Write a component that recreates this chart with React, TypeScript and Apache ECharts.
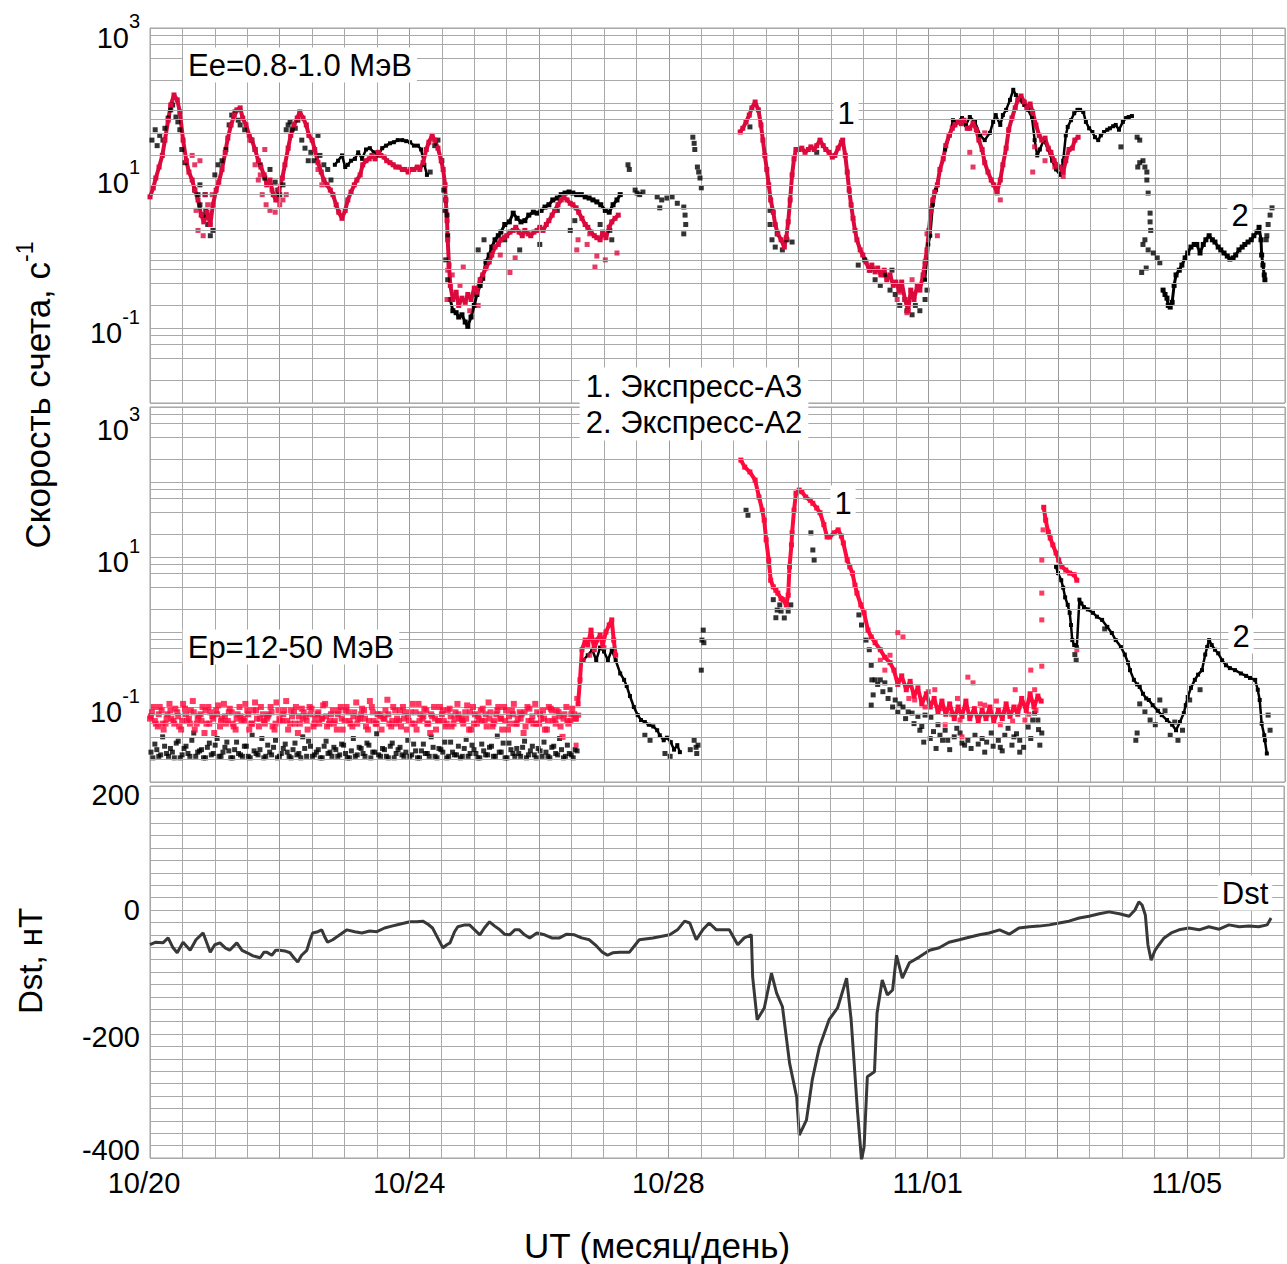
import React, { useEffect, useRef } from 'react';
import * as echarts from 'echarts';

const FONT = '"Liberation Sans", Arial, Helvetica, sans-serif';
const GRID_COLOR = '#a9a9a9';
const RED_E = '#dc0a3c';
const RED_P = '#ff0a3c';
const BLACK = '#000000';

// x axis: days since 2003-10-20 00 UT
const dayMax = 17.5;
const dayTicks = [0, 4, 8, 12, 16];
const dayTickLabels = ['10/20', '10/24', '10/28', '11/01', '11/05'];
const labeledDecades = [3, 1, -1];
const logMinorFactors = [2, 4, 6, 8];
const logDecades = [-2, -1, 0, 1, 2];
const dstLabels = [-400, -200, 0, 200];

// ---------- Electrons, Ee = 0.8-1.0 MeV (count rate, 1/s) ----------
// Express-A3 (1)
const eleA3Track1 = [
  [0, 5.6], [0.05, 7.4], [0.09, 10], [0.14, 14], [0.19, 20], [0.23, 32], [0.28, 59], [0.32, 94], [0.37, 128], [0.42, 110],
  [0.46, 76], [0.51, 32], [0.56, 17], [0.6, 12], [0.65, 9.4], [0.69, 6.9], [0.74, 5.1], [0.79, 3.2], [0.83, 2.6], [0.88, 3.5],
  [0.93, 2.4], [0.97, 4.4], [1.02, 6.9], [1.06, 8.8], [1.11, 13], [1.16, 22], [1.2, 34], [1.25, 51], [1.3, 69], [1.34, 81],
  [1.39, 86], [1.43, 63], [1.48, 51], [1.53, 37], [1.57, 32], [1.62, 24], [1.67, 17], [1.71, 14], [1.76, 11], [1.8, 8.1],
  [1.85, 9.4], [1.9, 6.0], [1.94, 5.1], [1.99, 6.9], [2.04, 10], [2.08, 15], [2.13, 25], [2.17, 37], [2.22, 51], [2.27, 63],
  [2.31, 76], [2.36, 63], [2.41, 51], [2.45, 37], [2.5, 32], [2.54, 24], [2.59, 16], [2.64, 12], [2.68, 9.4], [2.73, 8.1],
  [2.78, 6.9], [2.82, 6.0], [2.87, 4.4], [2.91, 3.5], [2.96, 2.9], [3.01, 3.7], [3.05, 5.1], [3.1, 6.5], [3.15, 8.1], [3.19, 9.4],
  [3.24, 11], [3.28, 15], [3.33, 17], [3.38, 18], [3.42, 20], [3.47, 18], [3.52, 22], [3.56, 20], [3.61, 19], [3.65, 17],
  [3.7, 16], [3.75, 15], [3.79, 14], [3.84, 14], [3.89, 13], [3.93, 13], [3.98, 12], [4.02, 13], [4.07, 13], [4.12, 14],
  [4.16, 13], [4.21, 16], [4.26, 24], [4.3, 30], [4.35, 37], [4.39, 32], [4.44, 25], [4.49, 17], [4.52, 13], [4.55, 8.1],
  [4.56, 5.1], [4.58, 2.7], [4.59, 1.5], [4.61, 0.69], [4.63, 0.37], [4.67, 0.24], [4.72, 0.3], [4.76, 0.2], [4.81, 0.25], [4.86, 0.22],
  [4.9, 0.28], [4.95, 0.24], [5.0, 0.34], [5.04, 0.3], [5.09, 0.44], [5.13, 0.51], [5.18, 0.63], [5.23, 0.76], [5.27, 0.94], [5.32, 1.2],
  [5.37, 1.3], [5.41, 1.5], [5.46, 1.6], [5.5, 1.7], [5.55, 1.9], [5.6, 2.0], [5.64, 2.2], [5.69, 1.9], [5.74, 1.7], [5.78, 2.0],
  [5.83, 1.8], [5.87, 1.7], [5.92, 1.9], [5.97, 2.0], [6.01, 2.2], [6.06, 2.0], [6.11, 2.4], [6.15, 2.7], [6.2, 3.2], [6.24, 3.7],
  [6.29, 4.4], [6.34, 5.1], [6.38, 5.6], [6.43, 5.1], [6.48, 4.6], [6.52, 4.4], [6.57, 4.0], [6.61, 3.5], [6.66, 2.9], [6.71, 2.4],
  [6.75, 2.2], [6.8, 1.9], [6.85, 1.7], [6.89, 1.6], [6.94, 1.5], [6.98, 1.9], [7.03, 1.6], [7.08, 2.2], [7.12, 2.6], [7.17, 2.9],
  [7.22, 3.2],
];
const eleA3Track2 = [
  [9.1, 41], [9.14, 46], [9.19, 56], [9.24, 69], [9.28, 86], [9.33, 103], [9.38, 81], [9.42, 51], [9.45, 32], [9.48, 20],
  [9.51, 13], [9.54, 8.1], [9.57, 5.1], [9.61, 3.5], [9.64, 2.4], [9.68, 1.8], [9.73, 1.5], [9.78, 1.2], [9.81, 1.6], [9.84, 2.6],
  [9.87, 5.1], [9.9, 11], [9.93, 18], [9.96, 24], [10.01, 24], [10.05, 25], [10.1, 22], [10.15, 24], [10.19, 26], [10.24, 24],
  [10.28, 27], [10.33, 32], [10.38, 27], [10.42, 24], [10.47, 22], [10.52, 19], [10.56, 20], [10.61, 25], [10.66, 30], [10.68, 32],
  [10.72, 20], [10.75, 12], [10.78, 6.9], [10.81, 4.4], [10.84, 2.9], [10.87, 2.0], [10.9, 1.5], [10.95, 1.1], [10.99, 0.94], [11.04, 0.76],
  [11.09, 0.59], [11.13, 0.69], [11.18, 0.56], [11.22, 0.63], [11.27, 0.51], [11.32, 0.59], [11.36, 0.44], [11.41, 0.51], [11.46, 0.37], [11.5, 0.41],
  [11.55, 0.32], [11.59, 0.41], [11.64, 0.24], [11.69, 0.17], [11.73, 0.32], [11.78, 0.24], [11.83, 0.37], [11.87, 0.32], [11.92, 0.51], [11.95, 0.76],
  [11.98, 1.1], [12.01, 2.0], [12.04, 3.7], [12.07, 5.1], [12.1, 6.5], [12.14, 8.1], [12.18, 13], [12.23, 18], [12.27, 27], [12.32, 37],
  [12.37, 46], [12.41, 51], [12.46, 56], [12.51, 53], [12.55, 59], [12.6, 46], [12.64, 46], [12.69, 54], [12.74, 44], [12.78, 32],
  [12.83, 24], [12.87, 16], [12.92, 12], [12.97, 9.4], [13.01, 8.1], [13.06, 6.5], [13.11, 9.4], [13.15, 15], [13.2, 25], [13.24, 44],
  [13.29, 63], [13.34, 86], [13.38, 110], [13.43, 124], [13.48, 103], [13.52, 86], [13.57, 97], [13.61, 76], [13.66, 51], [13.71, 37],
  [13.75, 32], [13.8, 34], [13.85, 25], [13.89, 22], [13.94, 17], [13.98, 15], [14.03, 14], [14.08, 12], [14.12, 17], [14.17, 24],
  [14.22, 25], [14.26, 32], [14.31, 35],
];
const eleA3Pts = [
  [0.65, 20], [0.69, 15], [0.74, 2.0], [0.77, 17], [0.82, 1.7], [0.85, 6.0], [0.89, 4.4], [0.93, 3.2], [0.96, 6.0], [0.71, 3.7],
  [1.54, 32], [1.62, 15], [1.67, 9.4], [1.73, 6.0], [1.79, 4.4], [1.85, 3.7], [1.93, 3.5], [2.0, 4.4], [2.05, 5.1], [2.1, 6.0],
  [1.77, 24], [1.7, 11], [1.88, 6.9], [1.97, 5.1], [2.59, 13], [2.65, 8.1], [4.59, 0.59], [4.58, 0.24], [4.66, 0.51], [4.78, 0.37],
  [4.93, 0.17], [5.06, 0.2], [4.83, 0.65], [5.4, 0.94], [5.55, 0.55], [5.63, 0.86], [6.58, 1.1], [6.6, 1.5], [6.86, 0.65], [6.89, 0.91],
  [7.02, 0.81], [7.2, 1.0], [6.78, 1.8], [6.98, 1.8], [6.74, 1.3], [11.26, 0.55], [11.56, 0.3], [11.67, 0.16], [11.52, 0.24], [11.75, 0.44],
  [11.98, 1.8], [12.14, 1.7], [12.64, 22], [12.69, 14], [12.87, 40], [13.06, 6.3], [13.11, 5.1], [13.61, 12], [13.64, 26], [13.95, 14],
  [14.08, 10.5], [13.8, 17],
];
// Express-A2 (2)
const eleA2Track1 = [
  [2.85, 15], [2.9, 17], [2.96, 20], [3.01, 14], [3.05, 15], [3.1, 17], [3.16, 18], [3.21, 22], [3.27, 18], [3.33, 24],
  [3.39, 25], [3.45, 22], [3.52, 20], [3.58, 25], [3.64, 27], [3.7, 29], [3.76, 30], [3.82, 32], [3.89, 32], [3.95, 31],
  [4.01, 30], [4.07, 27], [4.13, 27], [4.18, 24], [4.23, 15], [4.27, 11],
];
const eleA2Track2 = [
  [4.63, 0.24], [4.67, 0.17], [4.72, 0.16], [4.76, 0.14], [4.81, 0.15], [4.86, 0.12], [4.9, 0.105], [4.95, 0.14], [5.0, 0.2], [5.04, 0.28],
  [5.09, 0.37], [5.13, 0.46], [5.18, 0.76], [5.23, 0.94], [5.27, 1.2], [5.32, 1.5], [5.37, 1.7], [5.41, 1.9], [5.47, 2.4], [5.54, 2.6],
  [5.6, 3.4], [5.66, 2.9], [5.72, 2.6], [5.78, 2.7], [5.84, 3.2], [5.91, 3.5], [5.97, 3.4], [6.03, 3.7], [6.09, 4.1], [6.15, 4.4],
  [6.21, 5.1], [6.28, 5.4], [6.34, 6.0], [6.4, 6.3], [6.46, 6.5], [6.52, 6.3], [6.58, 6.0], [6.65, 6.0], [6.71, 5.6], [6.77, 5.4],
  [6.83, 5.1], [6.89, 4.8], [6.95, 4.4], [7.02, 3.7], [7.08, 3.5], [7.14, 4.4], [7.2, 5.1], [7.25, 6.0],
];
const eleA2Track3 = [
  [11.95, 0.44], [12.0, 1.3], [12.03, 1.7], [12.07, 4.4], [12.12, 6.9], [12.18, 13], [12.26, 24], [12.33, 37], [12.38, 59], [12.44, 56],
  [12.52, 63], [12.58, 51], [12.64, 65], [12.72, 56], [12.8, 37], [12.87, 32], [12.95, 40], [13.0, 56], [13.04, 69], [13.11, 51],
  [13.15, 69], [13.2, 81], [13.26, 110], [13.31, 150], [13.35, 128], [13.41, 110], [13.48, 94], [13.54, 81], [13.6, 63], [13.64, 32],
  [13.68, 20], [13.72, 24], [13.78, 32], [13.85, 24], [13.91, 17], [13.97, 13], [14.03, 11], [14.08, 17], [14.12, 37], [14.15, 48],
  [14.2, 59], [14.25, 73], [14.3, 81], [14.34, 81], [14.39, 76], [14.43, 56], [14.48, 46], [14.53, 41], [14.57, 35], [14.62, 32],
  [14.66, 37], [14.71, 41], [14.76, 44], [14.8, 46], [14.85, 49], [14.89, 51], [14.94, 44], [15.0, 56], [15.05, 63], [15.09, 65],
  [15.14, 67],
];
const eleA2Track4 = [
  [15.62, 0.32], [15.65, 0.28], [15.68, 0.25], [15.7, 0.2], [15.73, 0.19], [15.76, 0.22], [15.79, 0.37], [15.82, 0.51], [15.87, 0.59], [15.91, 0.69],
  [15.96, 0.86], [16.0, 1.0], [16.05, 1.2], [16.1, 1.3], [16.14, 1.3], [16.19, 1.0], [16.24, 1.3], [16.28, 1.5], [16.33, 1.7], [16.38, 1.5],
  [16.42, 1.4], [16.47, 1.2], [16.51, 1.1], [16.56, 1.0], [16.61, 0.91], [16.65, 0.83], [16.7, 0.86], [16.74, 0.94], [16.79, 1.1], [16.84, 1.2],
  [16.88, 1.3], [16.93, 1.4], [16.98, 1.5], [17.02, 1.7], [17.07, 1.9], [17.1, 2.2], [17.13, 1.5], [17.14, 0.94], [17.16, 0.69], [17.18, 0.51],
  [17.19, 0.44],
];
const eleA2Pts = [
  [0.03, 32], [0.08, 44], [0.11, 27], [0.15, 37], [0.2, 32], [0.23, 46], [0.28, 63], [0.32, 81], [0.35, 94], [0.4, 65],
  [0.43, 56], [0.46, 44], [0.49, 24], [0.54, 16], [0.69, 6.9], [0.74, 6.0], [0.77, 4.4], [0.82, 3.2], [0.86, 3.7], [0.89, 2.4],
  [0.93, 1.7], [0.97, 2.0], [0.77, 8.1], [0.85, 6.0], [1.0, 11], [1.05, 15], [1.11, 17], [1.17, 24], [1.22, 51], [1.26, 69],
  [1.31, 76], [1.36, 59], [1.39, 51], [1.46, 44], [1.57, 32], [1.62, 24], [1.7, 15], [1.77, 10], [1.85, 13], [1.93, 8.8],
  [1.97, 6.9], [2.0, 6.0], [2.05, 8.1], [2.1, 44], [2.13, 51], [2.16, 56], [2.19, 44], [2.24, 46], [2.28, 59], [2.34, 32],
  [2.39, 25], [2.44, 17], [2.48, 22], [2.53, 17], [2.59, 37], [2.62, 20], [2.68, 15], [2.74, 13], [2.79, 9.4], [4.32, 12],
  [4.39, 27], [4.44, 32], [4.5, 17], [4.53, 6.9], [4.56, 5.1], [4.58, 3.2], [4.55, 3.7], [4.56, 0.81], [4.59, 0.44], [4.59, 1.7],
  [5.06, 1.1], [5.15, 1.5], [5.47, 1.5], [5.7, 1.1], [6.01, 1.3], [6.28, 3.7], [6.48, 2.0], [6.55, 2.7], [6.94, 2.4], [7.09, 2.0],
  [7.12, 1.5], [7.37, 15], [7.39, 13], [7.48, 6.9], [7.51, 6.3], [7.55, 6.0], [7.6, 6.5], [7.82, 5.6], [7.89, 5.1], [7.97, 5.4],
  [8.05, 5.6], [8.13, 4.6], [7.86, 4.0], [8.23, 4.1], [8.25, 3.2], [8.26, 2.4], [8.23, 1.8], [8.37, 35], [8.39, 29], [8.4, 24],
  [8.44, 14], [8.46, 12], [8.48, 10], [8.5, 7.4], [9.25, 48], [9.56, 3.7], [9.56, 2.4], [9.59, 1.5], [9.64, 1.2], [9.67, 1.8],
  [9.75, 1.1], [9.82, 1.5], [9.9, 1.4], [10.28, 22], [11.02, 0.81], [11.1, 0.59], [11.18, 0.44], [11.26, 0.37], [11.33, 0.51], [11.41, 0.32],
  [11.49, 0.28], [11.56, 0.2], [11.64, 0.24], [11.67, 0.17], [11.75, 0.15], [11.8, 0.2], [11.87, 0.17], [11.95, 0.24], [11.98, 0.32], [10.92, 0.69],
  [11.44, 0.59], [14.97, 26], [15.22, 35], [15.26, 32], [15.23, 14], [15.26, 16], [15.31, 17], [15.34, 14], [15.37, 12], [15.37, 9.4],
  [15.39, 6.3], [15.42, 3.4], [15.42, 2.6], [15.43, 2.0], [15.31, 1.3], [15.34, 1.5], [15.39, 1.1], [15.47, 1.0], [15.53, 0.86], [15.57, 0.74],
  [15.29, 0.55], [15.36, 0.63], [17.21, 1.5], [17.22, 1.7], [17.24, 2.4], [17.27, 3.2], [17.3, 4.0],
];

// ---------- Protons, Ep = 12-50 MeV (count rate, 1/s) ----------
// quiet-time background, one sample per quietStep, interleaved passes per satellite
const quietStep = 0.06;
const proA3QuietA = [
  0.07, 0.1, 0.055, 0.09, 0.06, 0.11, 0.065, 0.085, 0.05, 0.095,
  0.07, 0.12, 0.06, 0.08, 0.045, 0.1, 0.075, 0.09, 0.055, 0.11,
  0.065, 0.085, 0.05, 0.1, 0.07, 0.09, 0.06, 0.115, 0.055, 0.08,
  0.07, 0.1, 0.05, 0.09, 0.065, 0.12, 0.06, 0.085, 0.045, 0.095,
  0.075, 0.1, 0.055, 0.08, 0.07, 0.11, 0.06, 0.09, 0.05, 0.1,
  0.065, 0.085, 0.055, 0.115, 0.07, 0.09, 0.05, 0.1, 0.06, 0.08,
  0.07, 0.125, 0.055, 0.09, 0.065, 0.1, 0.05, 0.085, 0.06, 0.11,
  0.07, 0.09, 0.045, 0.1, 0.065, 0.08, 0.055, 0.095, 0.06, 0.11,
  0.07, 0.085, 0.05, 0.1, 0.06, 0.09, 0.065, 0.115, 0.055, 0.08,
  0.07, 0.1, 0.05, 0.09, 0.06, 0.085, 0.045, 0.1, 0.065, 0.11,
  0.06, 0.09, 0.05, 0.095, 0.07, 0.085, 0.04, 0.1, 0.065, 0.08,
];
const proA3QuietB = [
  0.085, 0.06, 0.1, 0.05, 0.08, 0.07, 0.095, 0.055, 0.11, 0.065,
  0.09, 0.05, 0.075, 0.1, 0.06, 0.085, 0.045, 0.105, 0.07, 0.06,
  0.095, 0.055, 0.08, 0.065, 0.11, 0.05, 0.09, 0.07, 0.1, 0.06,
  0.08, 0.055, 0.115, 0.065, 0.09, 0.05, 0.075, 0.1, 0.06, 0.085,
  0.05, 0.095, 0.07, 0.06, 0.105, 0.055, 0.08, 0.065, 0.09, 0.05,
  0.1, 0.06, 0.085, 0.07, 0.095, 0.055, 0.12, 0.065, 0.08, 0.05,
  0.09, 0.06, 0.1, 0.07, 0.055, 0.085, 0.065, 0.11, 0.05, 0.08,
  0.095, 0.06, 0.075, 0.05, 0.1, 0.065, 0.09, 0.055, 0.085, 0.07,
  0.06, 0.105, 0.05, 0.08, 0.07, 0.095, 0.055, 0.085, 0.065, 0.1,
  0.05, 0.09, 0.06, 0.11, 0.07, 0.08, 0.055, 0.095, 0.06, 0.085,
  0.07, 0.05, 0.1, 0.065, 0.09, 0.055, 0.08, 0.06, 0.095, 0.07,
];
const proA3QuietC = [
  0.075, 0.065, 0.08, 0.06, 0.07, 0.09, 0.06, 0.075, 0.065, 0.08,
  0.06, 0.085, 0.07, 0.065, 0.09, 0.06, 0.07, 0.08, 0.065, 0.075,
  0.085, 0.06, 0.07, 0.075, 0.065, 0.08, 0.06, 0.09, 0.07, 0.065,
  0.075, 0.085, 0.06, 0.07, 0.08, 0.065, 0.09, 0.06, 0.075, 0.07,
  0.065, 0.08, 0.06, 0.085, 0.07, 0.075, 0.065, 0.06, 0.08, 0.07,
  0.09, 0.065, 0.075, 0.06, 0.08, 0.07, 0.065, 0.085, 0.06, 0.075,
  0.07, 0.08, 0.065, 0.06, 0.09, 0.07, 0.075, 0.06, 0.085, 0.065,
  0.075, 0.06, 0.08, 0.07, 0.065, 0.09, 0.06, 0.075, 0.07, 0.08,
  0.065, 0.07, 0.085, 0.06, 0.075, 0.065, 0.08, 0.07, 0.06, 0.09,
  0.07, 0.065, 0.075, 0.08, 0.06, 0.07, 0.085, 0.065, 0.075, 0.06,
  0.08, 0.07, 0.065, 0.09, 0.06, 0.075, 0.07, 0.065, 0.08, 0.07,
];
const proA3Track1 = [
  [6.6, 0.11], [6.63, 0.23], [6.66, 0.58], [6.71, 0.78], [6.75, 0.67], [6.8, 1.06], [6.85, 0.58], [6.89, 0.78], [6.94, 0.91], [6.98, 0.67],
  [7.03, 1.0], [7.08, 1.24], [7.12, 1.45], [7.15, 0.78], [7.18, 0.49],
];
const proA3Track2 = [
  [9.11, 196], [9.17, 158], [9.25, 136], [9.33, 106], [9.39, 63], [9.44, 42], [9.47, 31], [9.5, 17], [9.54, 9.1], [9.57, 4.9],
  [9.61, 4.0], [9.65, 3.6], [9.68, 3.3], [9.73, 2.8], [9.76, 2.7], [9.81, 2.3], [9.84, 3.1], [9.86, 7.4], [9.89, 14.5], [9.9, 21],
  [9.93, 42], [9.96, 71], [10.01, 78], [10.05, 74], [10.11, 63], [10.18, 57], [10.22, 52], [10.28, 45], [10.33, 39], [10.39, 27],
  [10.44, 18.5], [10.48, 18.5], [10.55, 21], [10.61, 23], [10.66, 19], [10.69, 15.4], [10.75, 9.1], [10.79, 7.4], [10.83, 6.1], [10.87, 4.2],
  [10.9, 3.3], [10.96, 2.3], [11.01, 1.8], [11.07, 1.06], [11.12, 0.86], [11.18, 0.72], [11.26, 0.58], [11.33, 0.46], [11.41, 0.39], [11.47, 0.31],
  [11.53, 0.2], [11.59, 0.26], [11.66, 0.17], [11.72, 0.22], [11.78, 0.14], [11.84, 0.18], [11.9, 0.11], [11.97, 0.15], [12.03, 0.1], [12.09, 0.13],
  [12.15, 0.085], [12.21, 0.12], [12.27, 0.08], [12.33, 0.11], [12.4, 0.07], [12.46, 0.1], [12.52, 0.075], [12.58, 0.12], [12.64, 0.07], [12.71, 0.095],
  [12.77, 0.065], [12.83, 0.09], [12.89, 0.07], [12.95, 0.1], [13.01, 0.065], [13.08, 0.09], [13.14, 0.07], [13.2, 0.11], [13.26, 0.075], [13.32, 0.1],
  [13.38, 0.08], [13.44, 0.13], [13.51, 0.09], [13.57, 0.15], [13.63, 0.1], [13.69, 0.14], [13.74, 0.12],
];
const proA3Track3 = [
  [13.78, 46], [13.81, 31], [13.85, 21.5], [13.88, 17.9], [13.92, 14.5], [13.97, 11.3], [14.01, 9.1], [14.06, 7.4], [14.12, 6.7], [14.18, 6.1],
  [14.25, 5.8], [14.29, 4.9],
];
const proA3Pts = [
  [6.57, 0.031], [6.58, 0.13], [6.61, 0.078], [6.68, 0.42], [6.78, 0.49], [7.0, 0.62], [11.26, 0.42], [11.33, 0.31], [11.41, 0.49], [11.79, 0.124],
  [12.1, 0.17], [12.26, 0.058], [12.49, 0.067], [12.87, 0.106], [13.11, 0.058], [13.34, 0.17], [13.49, 0.067], [13.64, 0.17], [11.53, 0.98], [11.61, 0.86],
  [12.61, 0.25], [12.69, 0.21], [13.58, 0.31], [12.52, 0.04], [13.75, 9.1], [13.75, 3.3], [13.75, 1.45], [13.75, 0.35], [14.29, 0.58], [13.77, 23],
  [11.7, 0.13], [11.95, 0.1], [12.0, 0.16], [12.2, 0.095], [12.36, 0.08], [12.45, 0.13], [12.7, 0.085], [12.8, 0.11], [12.92, 0.08], [13.05, 0.12],
  [13.17, 0.085], [13.3, 0.065], [13.4, 0.1], [13.55, 0.08], [13.66, 0.09],
];
// Express-A2 (2)
const proA2QuietA = [
  0.025, 0.032, 0.022, 0.04, 0.024, 0.028, 0.021, 0.035, 0.023, 0.03,
  0.022, 0.045, 0.025, 0.027, 0.021, 0.033, 0.024, 0.038, 0.022, 0.029,
  0.026, 0.021, 0.034, 0.023, 0.03, 0.022, 0.042, 0.024, 0.027, 0.021,
  0.031, 0.023, 0.036, 0.022, 0.028, 0.025, 0.021, 0.033, 0.024, 0.04,
  0.022, 0.03, 0.023, 0.027, 0.021, 0.035, 0.025, 0.029, 0.022, 0.032,
  0.024, 0.021, 0.038, 0.023, 0.028, 0.022, 0.031, 0.025, 0.044, 0.022,
  0.027, 0.021, 0.033, 0.024, 0.029, 0.022, 0.036, 0.023, 0.026, 0.021,
  0.032, 0.024, 0.04, 0.022, 0.028, 0.025, 0.021, 0.034, 0.023, 0.03,
  0.022, 0.037, 0.024, 0.027, 0.021, 0.032, 0.023, 0.029, 0.022, 0.041,
  0.025, 0.021, 0.033, 0.024, 0.028, 0.022, 0.035, 0.023, 0.03, 0.021,
  0.026, 0.034, 0.022, 0.029, 0.024, 0.038, 0.021, 0.031, 0.023, 0.027,
];
const proA2QuietB = [
  0.021, 0.027, 0.023, 0.03, 0.022, 0.025, 0.033, 0.021, 0.028, 0.024,
  0.036, 0.022, 0.026, 0.021, 0.029, 0.023, 0.031, 0.022, 0.025, 0.034,
  0.021, 0.027, 0.024, 0.022, 0.03, 0.021, 0.026, 0.023, 0.038, 0.022,
  0.025, 0.029, 0.021, 0.024, 0.032, 0.022, 0.027, 0.023, 0.021, 0.028,
  0.035, 0.022, 0.025, 0.021, 0.03, 0.024, 0.022, 0.027, 0.023, 0.031,
  0.021, 0.026, 0.022, 0.029, 0.024, 0.033, 0.021, 0.025, 0.023, 0.028,
  0.022, 0.03, 0.021, 0.027, 0.023, 0.025, 0.022, 0.032, 0.021, 0.026,
  0.024, 0.022, 0.029, 0.021, 0.027, 0.034, 0.022, 0.025, 0.023, 0.021,
  0.028, 0.022, 0.031, 0.024, 0.021, 0.026, 0.023, 0.03, 0.022, 0.025,
  0.033, 0.021, 0.027, 0.022, 0.024, 0.029, 0.021, 0.026, 0.023, 0.028,
  0.022, 0.025, 0.021, 0.03, 0.023, 0.027, 0.022, 0.024, 0.021, 0.026,
];
const proA2Track1 = [
  [6.68, 0.42], [6.75, 0.49], [6.82, 0.58], [6.88, 0.42], [6.94, 0.62], [7.0, 0.55], [7.06, 0.42], [7.12, 0.58], [7.18, 0.42], [7.25, 0.28],
  [7.31, 0.23], [7.35, 0.19], [7.4, 0.14], [7.46, 0.1], [7.52, 0.078], [7.57, 0.067], [7.63, 0.063], [7.69, 0.058], [7.76, 0.055], [7.82, 0.049],
  [7.86, 0.042], [7.92, 0.036], [7.97, 0.039], [8.03, 0.034], [8.08, 0.027], [8.13, 0.031], [8.17, 0.025],
];
const proA2Track2 = [
  [13.97, 7.4], [14.0, 6.1], [14.05, 4.9], [14.08, 3.9], [14.11, 2.9], [14.15, 2.3], [14.18, 1.8], [14.2, 1.24], [14.22, 0.78], [14.25, 0.67],
  [14.29, 0.63], [14.33, 2.7], [14.36, 2.4], [14.4, 2.15], [14.46, 2.0], [14.54, 1.8], [14.6, 1.6], [14.68, 1.45], [14.76, 1.17], [14.83, 0.97],
  [14.89, 0.78], [14.97, 0.63], [15.03, 0.5], [15.08, 0.39], [15.11, 0.31], [15.17, 0.23], [15.22, 0.2], [15.26, 0.185], [15.31, 0.15], [15.36, 0.13],
  [15.4, 0.124], [15.46, 0.106], [15.54, 0.089], [15.6, 0.078], [15.68, 0.067], [15.76, 0.058], [15.82, 0.049], [15.88, 0.063], [15.94, 0.083], [15.97, 0.106],
  [16.0, 0.136], [16.05, 0.18], [16.11, 0.23], [16.16, 0.27], [16.22, 0.31], [16.27, 0.5], [16.3, 0.63], [16.33, 0.78], [16.37, 0.67], [16.42, 0.58],
  [16.47, 0.52], [16.53, 0.42], [16.59, 0.36], [16.65, 0.33], [16.73, 0.31], [16.82, 0.28], [16.9, 0.26], [16.96, 0.244], [17.04, 0.23], [17.08, 0.17],
  [17.11, 0.124], [17.14, 0.06], [17.18, 0.042], [17.19, 0.036], [17.22, 0.024],
];
const proA2Pts = [
  [8.39, 0.036], [8.42, 0.029], [8.43, 0.024], [8.45, 0.031], [8.5, 0.31], [8.51, 0.78], [8.53, 1.06], [8.54, 0.72], [8.33, 0.027], [7.94, 0.024],
  [8.02, 0.022], [7.71, 0.036], [7.63, 0.042], [9.19, 42], [9.22, 36], [9.61, 2.7], [9.67, 1.96], [9.71, 2.3], [9.78, 1.54], [9.84, 1.9],
  [9.88, 2.3], [9.65, 1.55], [9.73, 1.9], [10.19, 21], [10.22, 12.4], [10.24, 9.1], [10.93, 1.69], [10.97, 1.24], [11.04, 0.78], [11.09, 0.58],
  [11.12, 0.36], [11.13, 0.23], [11.15, 0.145], [11.12, 0.106], [11.18, 0.23], [11.26, 0.23], [11.33, 0.21], [11.41, 0.17], [11.49, 0.124], [11.56, 0.11],
  [11.61, 0.1], [11.69, 0.086], [11.75, 0.083], [11.84, 0.075], [11.95, 0.078], [12.04, 0.073], [12.15, 0.058], [12.26, 0.049], [12.4, 0.04], [12.49, 0.045],
  [12.61, 0.036], [12.72, 0.042], [12.83, 0.038], [12.97, 0.045], [13.08, 0.036], [13.18, 0.042], [13.32, 0.04], [13.41, 0.036], [13.54, 0.054], [13.61, 0.067],
  [13.64, 0.083], [13.69, 0.067], [13.75, 0.045], [13.72, 0.031], [12.12, 0.028], [12.33, 0.027], [12.87, 0.025], [13.29, 0.031], [13.41, 0.025], [11.93, 0.034],
  [12.56, 0.031], [12.22, 0.036], [12.44, 0.052], [13.11, 0.029], [12.77, 0.032], [11.87, 0.049], [12.03, 0.038], [13.23, 0.052], [15.22, 0.045], [15.26, 0.11],
  [15.2, 0.036], [15.42, 0.067], [15.5, 0.058], [15.57, 0.124], [15.65, 0.089], [15.73, 0.042], [15.8, 0.063], [15.85, 0.036], [15.92, 0.049], [15.34, 0.086],
  [17.27, 0.049], [17.24, 0.078], [14.72, 1.1], [14.26, 0.5], [14.28, 0.42], [16.03, 0.124], [16.19, 0.17],
  [11.22, 0.2], [11.3, 0.16], [11.38, 0.13], [11.45, 0.1], [11.53, 0.085], [11.65, 0.07], [11.78, 0.06], [11.9, 0.055], [12.08, 0.047], [12.18, 0.042],
  [12.3, 0.036], [12.52, 0.033], [12.66, 0.028], [12.9, 0.034], [13.0, 0.03], [13.14, 0.026], [13.36, 0.044], [13.47, 0.029], [13.58, 0.038], [13.7, 0.05],
];

// ---------- Dst index, nT ----------
const dstSeries = [
  [0, -56], [0.09, -52], [0.2, -53], [0.28, -45], [0.35, -60], [0.42, -69], [0.51, -52], [0.62, -65], [0.71, -48], [0.82, -37],
  [0.93, -68], [1.0, -56], [1.08, -53], [1.16, -61], [1.23, -65], [1.34, -53], [1.42, -65], [1.5, -69], [1.59, -74], [1.7, -77],
  [1.76, -68], [1.8, -68], [1.88, -73], [1.94, -65], [2.0, -65], [2.08, -66], [2.16, -69], [2.22, -77], [2.28, -84], [2.34, -73],
  [2.42, -65], [2.47, -48], [2.51, -37], [2.59, -35], [2.65, -32], [2.7, -44], [2.74, -52], [2.82, -48], [2.93, -40], [3.04, -32],
  [3.16, -35], [3.27, -37], [3.39, -34], [3.5, -35], [3.62, -29], [3.73, -26], [3.85, -23], [4.01, -19], [4.12, -19], [4.21, -18],
  [4.29, -23], [4.36, -29], [4.44, -45], [4.52, -61], [4.58, -56], [4.63, -53], [4.7, -35], [4.75, -27], [4.86, -24], [4.93, -24],
  [5.01, -32], [5.09, -40], [5.16, -29], [5.24, -19], [5.32, -26], [5.4, -32], [5.47, -39], [5.55, -40], [5.63, -32], [5.7, -32],
  [5.78, -40], [5.86, -45], [5.97, -37], [6.09, -40], [6.2, -45], [6.32, -45], [6.43, -39], [6.55, -40], [6.66, -45], [6.78, -48],
  [6.89, -58], [6.98, -68], [7.06, -73], [7.14, -69], [7.25, -68], [7.4, -68], [7.55, -48], [7.76, -45], [8.02, -40], [8.14, -32],
  [8.25, -18], [8.33, -21], [8.43, -48], [8.53, -32], [8.63, -21], [8.74, -32], [8.94, -32], [9.07, -56], [9.17, -45], [9.28, -40],
  [9.3, -108], [9.37, -177], [9.48, -158], [9.59, -102], [9.67, -134], [9.76, -156], [9.87, -247], [9.98, -302], [10.02, -363], [10.13, -339],
  [10.22, -274], [10.33, -221], [10.48, -177], [10.61, -158], [10.75, -110], [10.82, -177], [10.92, -327], [10.98, -403], [11.02, -382], [11.07, -269],
  [11.18, -261], [11.22, -166], [11.3, -113], [11.38, -137], [11.46, -129], [11.52, -73], [11.61, -110], [11.72, -85], [11.87, -76], [12.03, -65],
  [12.18, -61], [12.33, -52], [12.49, -48], [12.64, -44], [12.8, -40], [12.95, -37], [13.11, -32], [13.26, -39], [13.41, -29], [13.57, -27],
  [13.72, -26], [13.88, -24], [14.03, -21], [14.18, -18], [14.34, -13], [14.49, -10], [14.65, -6], [14.8, -3], [14.96, -6], [15.11, -10],
  [15.2, 0], [15.26, 13], [15.31, 8], [15.36, -8], [15.4, -56], [15.45, -81], [15.51, -65], [15.57, -56], [15.65, -45], [15.76, -37],
  [15.88, -32], [16.03, -29], [16.19, -32], [16.34, -27], [16.5, -31], [16.65, -24], [16.81, -27], [16.96, -26], [17.11, -27], [17.24, -24],
  [17.3, -13],
];

const quietA3A = proA3QuietA.map((v, i) => [i * quietStep, v]);
const quietA3B = proA3QuietB.map((v, i) => [quietStep / 2 + i * quietStep, v]);
const quietA3C = proA3QuietC.map((v, i) => [quietStep / 4 + i * quietStep, v]);
const quietA2A = proA2QuietA.map((v, i) => [quietStep / 4 + i * quietStep, v]);
const quietA2B = proA2QuietB.map((v, i) => [(3 * quietStep) / 4 + i * quietStep, v]);
const logMinorValues = logDecades.flatMap((k) => logMinorFactors.map((m) => m * Math.pow(10, k)));
const evenDays = [2, 4, 6, 8, 10, 12, 14, 16];

const GRIDS = [
  { left: 150, top: 28, width: 1135, height: 375 },
  { left: 150, top: 407, width: 1135, height: 375 },
  { left: 150, top: 786, width: 1135, height: 372 },
];

const base = { fontFamily: FONT, color: '#000', verticalAlign: 'middle' };
// tokens are centred on the tick; padding moves each one up or down by half its size
const tok = (size: number, shift: number) => ({
  ...base, fontSize: size, padding: shift >= 0 ? [2 * shift, 0, 0, 0] : [0, 0, -2 * shift, 0],
});
const logRich = {
  b: tok(29, 5), s: tok(20, -11),
  bT: tok(29, 10), sT: tok(20, -7),
  bM: tok(29, 23), sM: tok(20, 7),
};
const dstRich = {
  t: tok(29, 9), z: tok(29, 0), m: tok(29, 3), l: tok(29, -8),
};
const dayRich = {
  first: { fontFamily: FONT, color: '#000', fontSize: 29, padding: [0, 12, 0, 0] },
  d: { fontFamily: FONT, color: '#000', fontSize: 29 },
};

function logFormatter(panel: number) {
  return (v: number) => {
    const e = Math.round(Math.log10(v));
    if (!labeledDecades.includes(e)) return '';
    const sfx = e === 3 ? (panel === 0 ? 'T' : 'M') : '';
    return `{b${sfx}|10}{s${sfx}|${e}}`;
  };
}
function dstFormatter(v: number) {
  if (!dstLabels.includes(v)) return '';
  const key = v === 200 ? 't' : v === 0 ? 'z' : v === -200 ? 'm' : 'l';
  return `{${key}|${v}}`;
}
function dayFormatter(v: number) {
  const k = dayTicks.indexOf(v);
  if (k < 0) return '';
  return k === 0 ? `{first|${dayTickLabels[k]}}` : `{d|${dayTickLabels[k]}}`;
}

function track(data: number[][], color: string, idx: number, width: number, size: number) {
  return {
    type: 'line', data, xAxisIndex: idx, yAxisIndex: idx, symbol: 'rect', symbolSize: size, showSymbol: true,
    lineStyle: { color, width }, itemStyle: { color }, z: 3, silent: true, animation: false,
  };
}
function dots(data: number[][], color: string, idx: number, size: number) {
  return {
    type: 'scatter', data, xAxisIndex: idx, yAxisIndex: idx, symbol: 'rect', symbolSize: size,
    itemStyle: { color }, z: 3, silent: true, animation: false,
  };
}
function guideLines(idx: number, withMinorLog: boolean) {
  const data: any[] = evenDays.map((d) => ({ xAxis: d, lineStyle: { color: '#999999', width: 1, type: 'solid' } }));
  if (withMinorLog) logMinorValues.forEach((v) => data.push({ yAxis: v }));
  return {
    type: 'line', data: [[0, withMinorLog ? 1 : 0]], xAxisIndex: idx, yAxisIndex: idx, showSymbol: false,
    lineStyle: { opacity: 0 }, z: 1, silent: true, animation: false,
    markLine: {
      silent: true, symbol: ['none', 'none'], label: { show: false }, animation: false,
      lineStyle: { color: GRID_COLOR, width: 1, type: 'solid' }, data,
    },
  };
}

function boxedText(text: string, x: number, y: number, size = 31, pad: number[] = [2, 5, 2, 5]) {
  return {
    type: 'text', x, y, z: 100,
    style: {
      text, font: `${size}px ${FONT}`, fill: '#000', backgroundColor: '#fff', padding: pad,
      align: 'center', verticalAlign: 'middle', textAlign: 'center', textVerticalAlign: 'middle',
    },
  };
}

export default function App() {
  const ref = useRef<HTMLDivElement>(null);
  useEffect(() => {
    if (!ref.current) return;
    const chart = echarts.init(ref.current, undefined, { renderer: 'svg' });
    const xAxes = GRIDS.map((_, i) => ({
      type: 'value', gridIndex: i, min: 0, max: dayMax, interval: 0.5,
      axisLine: { show: false }, axisTick: { show: false },
      splitLine: { show: true, lineStyle: { color: GRID_COLOR, width: 1 } },
      axisLabel: { show: i === 2, margin: 10, formatter: dayFormatter, rich: dayRich },
    }));
    const yAxes = [0, 1].map((i) => ({
      type: 'log', gridIndex: i, min: 0.01, max: 1000, logBase: 10,
      axisLine: { show: false }, axisTick: { show: false },
      splitLine: { show: true, lineStyle: { color: GRID_COLOR, width: 1 } },
      axisLabel: { margin: 10, formatter: logFormatter(i), rich: logRich },
    })) as any[];
    yAxes.push({
      type: 'value', gridIndex: 2, min: -400, max: 200, interval: 200,
      axisLine: { show: false }, axisTick: { show: false },
      splitLine: { show: true, lineStyle: { color: GRID_COLOR, width: 1 } },
      minorTick: { show: false, splitNumber: 10 },
      minorSplitLine: { show: true, lineStyle: { color: GRID_COLOR, width: 1 } },
      axisLabel: { margin: 10, formatter: dstFormatter, rich: dstRich },
    });

    chart.setOption({
      animation: false,
      backgroundColor: '#ffffff',
      grid: GRIDS.map((g) => ({ ...g, show: true, borderColor: '#a0a0a0', borderWidth: 1, backgroundColor: 'transparent' })),
      xAxis: xAxes,
      yAxis: yAxes,
      series: [
        guideLines(0, true),
        guideLines(1, true),
        guideLines(2, false),
        // electrons
        dots(eleA2Pts, BLACK, 0, 5),
        track(eleA2Track1, BLACK, 0, 2.5, 4),
        track(eleA2Track2, BLACK, 0, 3, 5),
        track(eleA2Track3, BLACK, 0, 2.5, 4),
        track(eleA2Track4, BLACK, 0, 3, 5),
        track(eleA3Track1, RED_E, 0, 4, 5),
        track(eleA3Track2, RED_E, 0, 4, 5),
        dots(eleA3Pts, RED_E, 0, 5),
        // protons
        dots(quietA2A, BLACK, 1, 5),
        dots(quietA2B, BLACK, 1, 5),
        track(proA2Track1, BLACK, 1, 2.5, 4),
        track(proA2Track2, BLACK, 1, 2.5, 4),
        dots(proA2Pts, BLACK, 1, 5),
        dots(quietA3A, RED_P, 1, 6),
        dots(quietA3B, RED_P, 1, 6),
        dots(quietA3C, RED_P, 1, 6),
        track(proA3Track1, RED_P, 1, 4, 5),
        track(proA3Track2, RED_P, 1, 4, 5),
        track(proA3Track3, RED_P, 1, 4, 5),
        dots(proA3Pts, RED_P, 1, 5),
        // Dst
        {
          type: 'line', data: dstSeries, xAxisIndex: 2, yAxisIndex: 2, showSymbol: false,
          lineStyle: { color: '#383838', width: 3 }, z: 3, silent: true, animation: false,
        },
      ],
      graphic: [
        boxedText('Ee=0.8-1.0 МэВ', 300, 65),
        boxedText('Ep=12-50 МэВ', 291, 647),
        boxedText('1. Экспресс-А3', 694, 386, 31, [4, 6, 2, 6]),
        boxedText('2. Экспресс-А2', 694, 422, 31, [2, 6, 4, 6]),
        boxedText('1', 846, 113, 31, [2, 4, 2, 4]),
        boxedText('1', 843, 503, 31, [2, 4, 2, 4]),
        boxedText('2', 1240, 215, 31, [2, 4, 2, 4]),
        boxedText('2', 1241, 636, 31, [2, 4, 2, 4]),
        boxedText('Dst', 1245, 893, 31, [2, 4, 2, 4]),
        {
          type: 'text', x: 657, y: 1245, z: 100,
          style: { text: 'UT (месяц/день)', font: `35px ${FONT}`, fill: '#000', align: 'center', verticalAlign: 'middle', textAlign: 'center', textVerticalAlign: 'middle' },
        },
        {
          type: 'text', x: 30, y: 961, z: 100, rotation: Math.PI / 2,
          style: { text: 'Dst, нТ', font: `33px ${FONT}`, fill: '#000', align: 'center', verticalAlign: 'middle', textAlign: 'center', textVerticalAlign: 'middle' },
        },
        {
          type: 'text', x: 33, y: 395, z: 100, rotation: Math.PI / 2,
          style: {
            text: '{t|Скорость счета, с}{u|-1}', align: 'center', verticalAlign: 'middle', textAlign: 'center', textVerticalAlign: 'middle',
            rich: {
              t: { fontFamily: FONT, fontSize: 35, verticalAlign: 'middle', padding: [8, 0, 0, 0], fill: '#000', color: '#000' },
              u: { fontFamily: FONT, fontSize: 23, verticalAlign: 'middle', padding: [0, 0, 16, 0], fill: '#000', color: '#000' },
            },
          },
        },
      ],
    });
    return () => chart.dispose();
  }, []);
  return <div ref={ref} style={{ position: 'absolute', left: 0, top: 0, width: 1287, height: 1264, background: '#fff' }} />;
}
